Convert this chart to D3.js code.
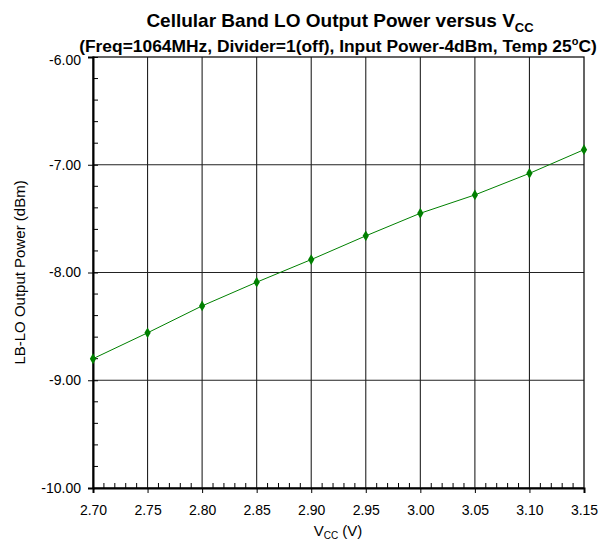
<!DOCTYPE html>
<html>
<head>
<meta charset="utf-8">
<script src="https://cdn.jsdelivr.net/npm/d3@7"></script>
<style>
  body { margin: 0; background: #fff; }
  svg { font-family: Arial, "Liberation Sans", sans-serif; }
</style>
</head>
<body>
<svg id="vis" width="609" height="546"></svg>
<script>
// data
const vcc = [2.70, 2.75, 2.80, 2.85, 2.90, 2.95, 3.00, 3.05, 3.10, 3.15];
const power = [-8.80, -8.56, -8.31, -8.09, -7.88, -7.66, -7.45, -7.28, -7.08, -6.86];
const xTicks = [2.70, 2.75, 2.80, 2.85, 2.90, 2.95, 3.00, 3.05, 3.10, 3.15];
const yTicks = [-10, -9, -8, -7, -6];

const margin = {top: 57, right: 25, bottom: 58, left: 93};
const W = 609, H = 546;
const fmt = d => d.toFixed(2); // plain hyphen, not the unicode minus

const svg = d3.select("#vis");
const x = d3.scaleLinear().domain([2.70, 3.15]).range([margin.left, W - margin.right]);
const y = d3.scaleLinear().domain([-10, -6]).range([H - margin.bottom, margin.top]);

// grid
svg.append("g")
  .selectAll("line")
  .data(xTicks.slice(1, -1))
  .join("line")
  .attr("x1", d => x(d)).attr("x2", d => x(d))
  .attr("y1", y(-6)).attr("y2", y(-10))
  .attr("stroke", "#222").attr("stroke-width", 1.1);
svg.append("g")
  .selectAll("line")
  .data(yTicks.slice(1, -1))
  .join("line")
  .attr("x1", x(2.70)).attr("x2", x(3.15))
  .attr("y1", d => y(d)).attr("y2", d => y(d))
  .attr("stroke", "#222").attr("stroke-width", 1.1);

// frame top / right
svg.append("rect")
  .attr("x", x(2.70)).attr("y", y(-6))
  .attr("width", x(3.15) - x(2.70)).attr("height", y(-10) - y(-6))
  .attr("fill", "none").attr("stroke", "#111").attr("stroke-width", 1.3);

// minor ticks
const yMinor = d3.range(-10, -6.001, 0.2).filter(v => Math.abs(v - Math.round(v)) > 1e-6);
svg.append("g").selectAll("line").data(yMinor).join("line")
  .attr("x1", x(2.70)).attr("x2", x(2.70) + 5)
  .attr("y1", d => y(d)).attr("y2", d => y(d))
  .attr("stroke", "#000");
const xMinor = d3.range(0, 46).map(i => 2.70 + i * 0.01).filter((v, i) => i % 5 !== 0);
svg.append("g").selectAll("line").data(xMinor).join("line")
  .attr("x1", d => x(d)).attr("x2", d => x(d))
  .attr("y1", y(-10)).attr("y2", y(-10) - 5)
  .attr("stroke", "#000");

// axes
const xAxis = svg.append("g")
  .attr("transform", `translate(0,${y(-10)})`)
  .call(d3.axisBottom(x).tickValues(xTicks).tickFormat(fmt).tickSize(5).tickPadding(12));
const yAxis = svg.append("g")
  .attr("transform", `translate(${x(2.70)},0)`)
  .call(d3.axisLeft(y).tickValues(yTicks).tickFormat(fmt).tickSize(5).tickPadding(7));

[xAxis, yAxis].forEach(g => {
  g.attr("font-size", 14).attr("font-family", 'Arial, "Liberation Sans", sans-serif');
  g.select(".domain").attr("stroke", "#000").attr("stroke-width", 2);
  g.selectAll(".tick line").attr("stroke", "#000");
  g.selectAll("text").attr("fill", "#000");
});
// y major ticks cross the axis
yAxis.selectAll(".tick line").attr("x2", 5).attr("x1", -5);
yAxis.selectAll(".tick").filter(d => d === -6).select("text").attr("dy", "0.5em");

// series
svg.append("path")
  .datum(vcc.map((v, i) => [v, power[i]]))
  .attr("fill", "none")
  .attr("stroke", "#008000")
  .attr("stroke-width", 1)
  .attr("d", d3.line().x(d => x(d[0])).y(d => y(d[1])));

svg.append("g").selectAll("path")
  .data(vcc.map((v, i) => [v, power[i]]))
  .join("path")
  .attr("transform", d => `translate(${x(d[0])},${y(d[1])})`)
  .attr("d", d3.symbol(d3.symbolDiamond, 34))
  .attr("fill", "#008000");

// titles
const title = svg.append("text")
  .attr("x", 340).attr("y", 27)
  .attr("text-anchor", "middle")
  .attr("font-weight", "bold").attr("font-size", 19);
title.append("tspan").text("Cellular Band LO Output Power versus V");
title.append("tspan").attr("font-size", 13).attr("dy", 5).text("CC");

const sub = svg.append("text")
  .attr("x", 338).attr("y", 52)
  .attr("text-anchor", "middle")
  .attr("font-weight", "bold").attr("font-size", 17.4);
sub.append("tspan").text("(Freq=1064MHz, Divider=1(off), Input Power-4dBm, Temp 25");
sub.append("tspan").attr("font-size", 11).attr("dy", -7).text("o");
sub.append("tspan").attr("dy", 7).text("C)");

const xl = svg.append("text")
  .attr("x", 338).attr("y", 536)
  .attr("text-anchor", "middle").attr("font-size", 15);
xl.append("tspan").text("V");
xl.append("tspan").attr("font-size", 10).attr("dy", 3).text("CC");
xl.append("tspan").attr("dy", -3).text(" (V)");

svg.append("text")
  .attr("transform", `translate(25,${(y(-6) + y(-10)) / 2}) rotate(-90)`)
  .attr("text-anchor", "middle").attr("font-size", 15)
  .text("LB-LO Output Power (dBm)");
</script>
</body>
</html>
